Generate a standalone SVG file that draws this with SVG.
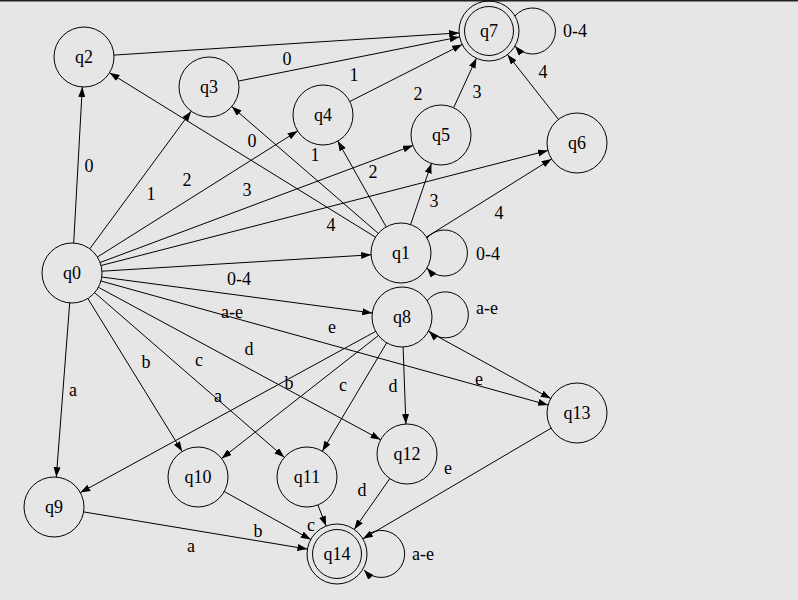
<svg xmlns="http://www.w3.org/2000/svg" width="798" height="600" viewBox="0 0 798 600">
<defs>
<marker id="arr" markerWidth="11" markerHeight="8" refX="10" refY="3.5" orient="auto" markerUnits="userSpaceOnUse">
<path d="M0,0 L10,3.5 L0,7 z" fill="#000"/>
</marker>
<style>
.n{fill:none;stroke:#000;stroke-width:1}
.t{font-family:"Liberation Serif","Times New Roman",serif;font-size:18px;fill:#000;text-anchor:middle}
.e line,.e path{fill:none;stroke:#000;stroke-width:1;marker-end:url(#arr)}
</style>
</defs>
<rect x="0" y="0" width="798" height="600" fill="#e6e6e6"/>
<rect x="0" y="0" width="798" height="1.5" fill="#222"/>
<g id="connectors" class="e">
<line x1="73.7" y1="243" x2="82.3" y2="87"/>
<line x1="89.8" y1="248.8" x2="191.2" y2="111.2"/>
<line x1="97.4" y1="257" x2="297.6" y2="131"/>
<line x1="100.1" y1="262.5" x2="412.9" y2="145.5"/>
<line x1="101.1" y1="265.5" x2="547.9" y2="150.5"/>
<line x1="101.9" y1="271.2" x2="371.1" y2="254.8"/>
<line x1="101.7" y1="277" x2="372.3" y2="313"/>
<line x1="100.9" y1="281" x2="548.1" y2="405"/>
<line x1="98.4" y1="287.3" x2="380.6" y2="439.7"/>
<line x1="94.7" y1="292.7" x2="284.3" y2="457.3"/>
<line x1="87.8" y1="298.5" x2="182.2" y2="451.5"/>
<line x1="69.7" y1="302.9" x2="56.3" y2="477.1"/>
<line x1="375.5" y1="237.2" x2="109.5" y2="72.8"/>
<line x1="378.3" y1="233.4" x2="231.7" y2="106.6"/>
<line x1="386.2" y1="226.9" x2="337.8" y2="141.1"/>
<line x1="410.6" y1="224.6" x2="431.4" y2="163.4"/>
<line x1="426.4" y1="237.1" x2="551.6" y2="158.9"/>
<line x1="113.9" y1="55.1" x2="459.1" y2="32.9"/>
<line x1="238.4" y1="81.1" x2="459.6" y2="36.9"/>
<line x1="349.8" y1="101.5" x2="462.2" y2="44.5"/>
<line x1="453.6" y1="107.8" x2="476.4" y2="58.2"/>
<line x1="558.5" y1="119.4" x2="507.5" y2="54.6"/>
<line x1="375.7" y1="331.4" x2="80.3" y2="492.6"/>
<line x1="378.4" y1="335.5" x2="221.6" y2="458.5"/>
<line x1="386.7" y1="342.8" x2="322.3" y2="451.2"/>
<line x1="403.1" y1="347" x2="405.9" y2="424"/>
<line x1="428.3" y1="331.4" x2="550.7" y2="398.6"/>
<line x1="83.6" y1="511.9" x2="307.4" y2="549.1"/>
<line x1="224.2" y1="491.5" x2="310.8" y2="539.5"/>
<line x1="317.9" y1="505" x2="326.1" y2="526"/>
<line x1="389.8" y1="478.6" x2="354.2" y2="529.4"/>
<line x1="551.1" y1="428.2" x2="362.9" y2="538.8"/>
<path d="M427,238 A23,23 0 1,1 427,268"/>
<path d="M515,16 A23,23 0 1,1 515,46"/>
<path d="M427,301 A23,23 0 1,1 429,331"/>
<path d="M363,539 A23.5,23.5 0 1,1 364,570"/>
</g>
<g id="labels" class="t">
<text x="89" y="172">0</text>
<text x="151" y="200">1</text>
<text x="187" y="186">2</text>
<text x="247" y="196">3</text>
<text x="331" y="231">4</text>
<text x="252" y="147">0</text>
<text x="315" y="161">1</text>
<text x="373" y="178">2</text>
<text x="434" y="207">3</text>
<text x="499" y="219">4</text>
<text x="287" y="65">0</text>
<text x="354" y="81">1</text>
<text x="418" y="100">2</text>
<text x="477" y="98">3</text>
<text x="543" y="78">4</text>
<text x="239" y="285">0-4</text>
<text x="488" y="260">0-4</text>
<text x="575" y="37">0-4</text>
<text x="232" y="318">a-e</text>
<text x="487" y="314">a-e</text>
<text x="423" y="560">a-e</text>
<text x="332" y="333">e</text>
<text x="479" y="385">e</text>
<text x="448" y="474">e</text>
<text x="249" y="355">d</text>
<text x="393" y="392">d</text>
<text x="362" y="496">d</text>
<text x="199" y="366">c</text>
<text x="343" y="391">c</text>
<text x="311" y="531">c</text>
<text x="146" y="368">b</text>
<text x="289" y="389">b</text>
<text x="258" y="537">b</text>
<text x="73" y="396">a</text>
<text x="218" y="402">a</text>
<text x="191" y="552">a</text>
</g>
<g id="q0"><circle class="n" cx="72" cy="273" r="30"/><text class="t" x="72" y="279">q0</text></g>
<g id="q1"><circle class="n" cx="401" cy="253" r="30"/><text class="t" x="401" y="259">q1</text></g>
<g id="q2"><circle class="n" cx="84" cy="57" r="30"/><text class="t" x="84" y="63">q2</text></g>
<g id="q3"><circle class="n" cx="209" cy="87" r="30"/><text class="t" x="209" y="93">q3</text></g>
<g id="q4"><circle class="n" cx="323" cy="115" r="30"/><text class="t" x="323" y="121">q4</text></g>
<g id="q5"><circle class="n" cx="441" cy="135" r="30"/><text class="t" x="441" y="141">q5</text></g>
<g id="q6"><circle class="n" cx="577" cy="143" r="30"/><text class="t" x="577" y="149">q6</text></g>
<g id="q7"><circle class="n" cx="489" cy="31" r="30"/><circle class="n" cx="489" cy="31" r="24.5"/><text class="t" x="489" y="37">q7</text></g>
<g id="q8"><circle class="n" cx="402" cy="317" r="30"/><text class="t" x="402" y="323">q8</text></g>
<g id="q9"><circle class="n" cx="54" cy="507" r="30"/><text class="t" x="54" y="513">q9</text></g>
<g id="q10"><circle class="n" cx="198" cy="477" r="30"/><text class="t" x="198" y="483">q10</text></g>
<g id="q11"><circle class="n" cx="307" cy="477" r="30"/><text class="t" x="307" y="483">q11</text></g>
<g id="q12"><circle class="n" cx="407" cy="454" r="30"/><text class="t" x="407" y="460">q12</text></g>
<g id="q13"><circle class="n" cx="577" cy="413" r="30"/><text class="t" x="577" y="419">q13</text></g>
<g id="q14"><circle class="n" cx="337" cy="554" r="30"/><circle class="n" cx="337" cy="554" r="24.5"/><text class="t" x="337" y="560">q14</text></g>
</svg>
